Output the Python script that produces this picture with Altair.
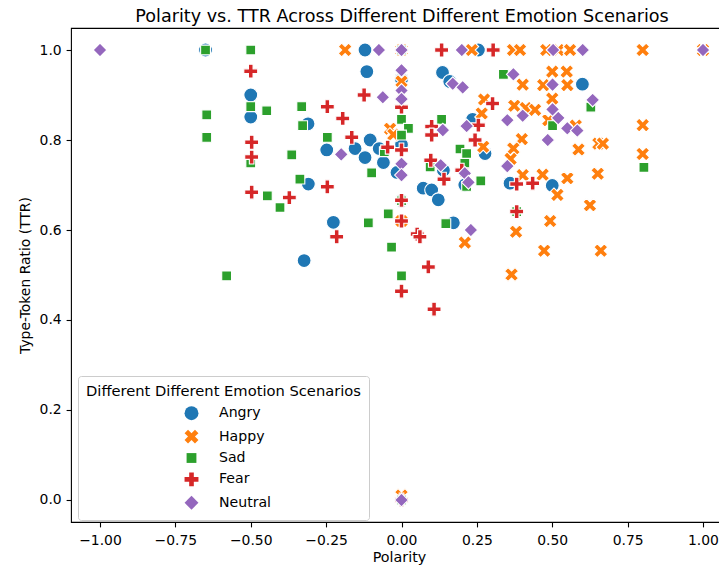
import altair as alt
import pandas as pd

emotions = ["Angry", "Happy", "Sad", "Fear", "Neutral"]
colors = ["#1f77b4", "#ff7f0e", "#2ca02c", "#d62728", "#9467bd"]

angry_x = [-0.65, -0.5, -0.5, -0.31, -0.309, -0.226, -0.323, -0.121, -0.115, 0.0,
           0.136, 0.16, 0.236, -0.104, -0.248, -0.154, -0.121, -0.074, 0.0, -0.06,
           -0.015, 0.139, 0.21, 0.072, 0.1, 0.122, 0.0, 0.172, 0.255, 0.277,
           0.6, 0.36, 0.5]
angry_y = [1.0, 0.9, 0.851, 0.836, 0.702, 0.617, 0.532, 1.0, 0.952, 0.935,
           0.95, 0.93, 0.846, 0.8, 0.778, 0.781, 0.761, 0.781, 0.79, 0.75,
           0.728, 0.733, 0.7, 0.693, 0.689, 0.667, 0.665, 0.616, 1.0, 0.77,
           0.924, 0.704, 0.699]

happy_x = [-0.187, 0.0, 0.233, 0.37, 0.393, 0.48, 0.52, 0.559, 0.8, 1.0,
           0.0, 0.0, -0.038, -0.027, 0.0, 0.0, 0.21, 0.271, 0.266, 0.274,
           0.402, 0.5, 0.548, 0.47, 0.55, 0.5, 0.374, 0.412, 0.443, 0.487,
           0.578, 0.399, 0.371, 0.587, 0.653, 0.668, 0.8, 0.8, 0.362, 0.402,
           0.468, 0.517, 0.55, 0.651, 0.625, 0.493, 0.38, 0.473, 0.661, 0.365]
happy_y = [1.0, 1.0, 1.0, 1.0, 1.0, 1.0, 1.0, 1.0, 1.0, 1.0,
           0.93, 0.9, 0.825, 0.812, 0.62, 0.01, 0.572, 0.785, 0.859, 0.89,
           0.923, 0.952, 0.952, 0.922, 0.922, 0.892, 0.876, 0.871, 0.867, 0.844,
           0.832, 0.802, 0.781, 0.779, 0.792, 0.792, 0.833, 0.769, 0.758, 0.722,
           0.723, 0.678, 0.715, 0.725, 0.655, 0.62, 0.596, 0.554, 0.554, 0.501]

sad_x = [-0.65, -0.5, -0.5, -0.447, -0.331, -0.646, -0.646, -0.328, -0.5, -0.364,
         -0.337, -0.445, -0.403, -0.58, 0.0, 0.0, 0.023, 0.0, 0.133, -0.246,
         -0.057, 0.194, 0.216, 0.21, 0.216, 0.263, -0.099, 0.0, -0.044, -0.11,
         0.147, -0.033, 0.0, 0.338, 0.628, 0.501, 0.804, 0.382, 0.095, 0.0]
sad_y = [1.0, 1.0, 0.874, 0.865, 0.874, 0.856, 0.806, 0.832, 0.749, 0.767,
         0.713, 0.676, 0.65, 0.498, 1.0, 0.846, 0.826, 0.811, 0.846, 0.806,
         0.774, 0.78, 0.77, 0.748, 0.697, 0.709, 0.727, 0.665, 0.636, 0.616,
         0.614, 0.562, 0.498, 0.946, 0.873, 0.832, 0.739, 0.641, 0.74, 0.0]

fear_x = [-0.5, -0.497, -0.497, -0.497, -0.372, -0.215, 0.133, 0.304, 0.0, -0.124,
          -0.246, -0.195, 0.1, 0.1, 0.255, 0.244, -0.165, -0.046, 0.0, 0.097,
          0.141, 0.2, -0.246, 0.0, 0.0, 0.052, 0.061, 0.089, 0.0, 0.108,
          0.302, 0.382, 0.435, 0.382, 0.0]
fear_y = [0.953, 0.795, 0.762, 0.684, 0.672, 0.585, 1.0, 1.0, 0.873, 0.9,
          0.874, 0.848, 0.83, 0.811, 0.833, 0.8, 0.806, 0.784, 0.778, 0.755,
          0.713, 0.733, 0.696, 0.666, 0.62, 0.591, 0.585, 0.518, 0.464, 0.424,
          0.881, 0.702, 0.704, 0.641, 0.0]

neutral_x = [-1.0, -0.075, 0.0, 0.2, 0.503, 0.601, 1.0, 0.0, 0.0, 0.0,
             0.17, 0.203, -0.062, 0.137, 0.216, -0.2, 0.0, 0.0, 0.13, 0.21,
             0.222, 0.23, 0.371, 0.501, 0.634, 0.501, 0.52, 0.402, 0.351, 0.55,
             0.583, 0.485, 0.351, 0.0]
neutral_y = [1.0, 1.0, 1.0, 1.0, 1.0, 1.0, 1.0, 0.955, 0.91, 0.891,
             0.925, 0.917, 0.895, 0.822, 0.831, 0.768, 0.747, 0.722, 0.744, 0.726,
             0.706, 0.6, 0.946, 0.923, 0.889, 0.868, 0.849, 0.854, 0.844, 0.826,
             0.821, 0.8, 0.742, 0.0]

x_ticks = [-1.0, -0.75, -0.5, -0.25, 0.0, 0.25, 0.5, 0.75, 1.0]
y_ticks = [0.0, 0.2, 0.4, 0.6, 0.8, 1.0]

series = [(angry_x, angry_y), (happy_x, happy_y), (sad_x, sad_y),
          (fear_x, fear_y), (neutral_x, neutral_y)]
rows = []
for name, (xs, ys) in zip(emotions, series):
    for xv, yv in zip(xs, ys):
        rows.append({"Polarity": xv, "TTR": yv, "Emotion": name})
df = pd.DataFrame(rows)

shape_circle = "circle"
shape_x = "M-0.5,-1L0,-0.5L0.5,-1L1,-0.5L0.5,0L1,0.5L0.5,1L0,0.5L-0.5,1L-1,0.5L-0.5,0L-1,-0.5Z"
shape_square = "M-0.707,-0.707L0.707,-0.707L0.707,0.707L-0.707,0.707Z"
shape_plus = ("M-0.333,-1L0.333,-1L0.333,-0.333L1,-0.333L1,0.333L0.333,0.333L0.333,1"
              "L-0.333,1L-0.333,0.333L-1,0.333L-1,-0.333L-0.333,-0.333Z")
shape_diamond = "diamond"
shapes = [shape_circle, shape_x, shape_square, shape_plus, shape_diamond]

FONT = "DejaVu Sans"
FS = 13.9
MSIZE = 193

legend = alt.Legend(
    title="Different Different Emotion Scenarios",
    orient="none", legendX=7, legendY=348,
    titleFont=FONT, titleFontSize=14.7, titleFontWeight="normal", titleColor="black",
    titlePadding=7, titleAnchor="start", titleLimit=500,
    labelFont=FONT, labelFontSize=14.1, labelColor="black", labelLimit=300,
    symbolSize=MSIZE, symbolOffset=98, labelOffset=20,
    symbolStrokeColor="white", symbolStrokeWidth=1.1, symbolOpacity=1,
    rowPadding=4.4, padding=8,
    strokeColor="#cccccc", fillColor="rgba(255,255,255,0.8)", cornerRadius=3,
)

chart = alt.Chart(df).mark_point(
    filled=True, size=MSIZE, opacity=1, stroke="white", strokeWidth=1.1
).encode(
    x=alt.X("Polarity:Q",
            scale=alt.Scale(domain=[-1.0962, 1.0796], nice=False, zero=False),
            axis=alt.Axis(values=x_ticks, format=".2f", title="Polarity",
                          grid=False, domain=False, tickColor="black", tickSize=4.9,
                          tickWidth=1.1, labelPadding=6.5, labelFont=FONT,
                          labelFontSize=FS, labelColor="black", labelFlush=False,
                          titleFont=FONT, titleFontSize=14.3, titleFontWeight="normal",
                          titleColor="black", titlePadding=3)),
    y=alt.Y("TTR:Q",
            scale=alt.Scale(domain=[-0.0489, 1.0489], nice=False, zero=False),
            axis=alt.Axis(values=y_ticks, format=".1f", title="Type-Token Ratio (TTR)",
                          grid=False, domain=False, tickColor="black", tickSize=4.9,
                          tickWidth=1.1, labelPadding=4.9, labelFont=FONT,
                          labelFontSize=FS, labelColor="black", labelFlush=False,
                          titleFont=FONT, titleFontSize=FS, titleFontWeight="normal",
                          titleColor="black", titlePadding=7)),
    color=alt.Color("Emotion:N", scale=alt.Scale(domain=emotions, range=colors),
                    legend=legend),
    shape=alt.Shape("Emotion:N", scale=alt.Scale(domain=emotions, range=shapes),
                    legend=legend),
).properties(
    width=656, height=494,
    padding={"left": 63, "top": 20, "right": -8, "bottom": 44},
    autosize=alt.AutoSizeParams(type="none"),
    title=alt.TitleParams(
        "Polarity vs. TTR Across Different Different Emotion Scenarios",
        font=FONT, fontSize=17.6, fontWeight="normal", color="black",
        anchor="middle", dx=3, offset=2),
).configure_view(
    stroke="black", strokeWidth=1.1
)

chart.save("out.html", embed_options={"renderer": "svg", "actions": False})
